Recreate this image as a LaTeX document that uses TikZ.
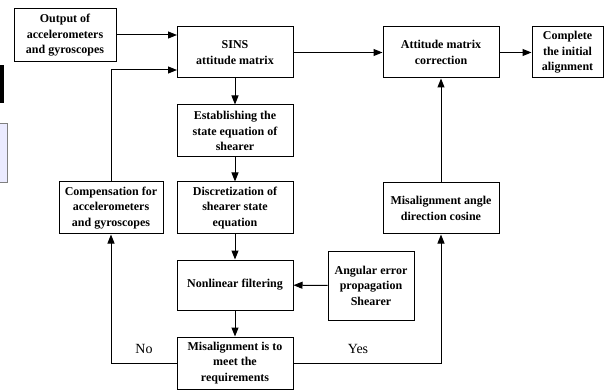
\documentclass[tikz,border=0pt]{standalone}
\usepackage{fontspec}
\setmainfont{Liberation Serif}
\usetikzlibrary{arrows.meta}

\begin{document}
\begin{tikzpicture}[x=1pt,y=-1pt]
    \useasboundingbox (0,0) rectangle (605,390);
    \tikzset{BoxStyle/.style = {draw, line width=1pt, align=center, inner sep=2pt,
        font=\fontsize{12}{15.5}\selectfont\bfseries}}
    \tikzset{EdgeStyle/.style = {line width=1pt, -{Triangle[length=9pt,width=7pt]}}}

    % bits cut from the page on the left
    \fill[black] (0,65) rectangle (4,103);
    \filldraw[fill=blue!8, draw=gray, line width=0.8pt] (-1,123) rectangle (7,182);

    \node[BoxStyle, minimum width=102pt, minimum height=53pt] (Out) at (65,35.5)
        {Output of\\accelerometers\\and gyroscopes};
    \node[BoxStyle, minimum width=116pt, minimum height=51pt] (Sins) at (235,52.5)
        {SINS\\attitude matrix};
    \node[BoxStyle, minimum width=116pt, minimum height=52pt] (Est) at (235,131)
        {Establishing the\\state equation of\\shearer};
    \node[BoxStyle, minimum width=116pt, minimum height=52pt] (Disc) at (235,208)
        {Discretization of\\shearer state\\equation};
    \node[BoxStyle, minimum width=116pt, minimum height=50pt] (Filt) at (235,285)
        {Nonlinear filtering};
    \node[BoxStyle, minimum width=116pt, minimum height=52pt] (Req) at (235,363)
        {Misalignment is to\\meet the\\requirements};
    \node[BoxStyle, minimum width=104pt, minimum height=52pt] (Comp) at (111,208)
        {Compensation for\\accelerometers\\and gyroscopes};
    \node[BoxStyle, minimum width=116pt, minimum height=51pt] (Corr) at (441,52.5)
        {Attitude matrix\\correction};
    \node[BoxStyle, minimum width=71pt, minimum height=51pt] (Done) at (567.5,52.5)
        {Complete\\the initial\\alignment};
    \node[BoxStyle, minimum width=116pt, minimum height=51pt] (Cos) at (441,208.5)
        {Misalignment angle\\direction cosine};
    \node[BoxStyle, minimum width=86pt, minimum height=69pt] (Err) at (371,285.5)
        {Angular error\\propagation\\Shearer};

    \coordinate (OutIn) at (177,35);
    \coordinate (BackIn) at (177,70);

    \draw[EdgeStyle] (Out.east |- OutIn) -- (OutIn);
    \draw[EdgeStyle] (Comp.north) |- (BackIn);
    \draw[EdgeStyle] (Sins) -- (Est);
    \draw[EdgeStyle] (Est) -- (Disc);
    \draw[EdgeStyle] (Disc) -- (Filt);
    \draw[EdgeStyle] (Filt) -- (Req);
    \draw[EdgeStyle] (Err) -- (Filt);
    \draw[EdgeStyle] (Sins) -- (Corr);
    \draw[EdgeStyle] (Corr) -- (Done);
    \draw[EdgeStyle] (Cos) -- (Corr);
    \draw[EdgeStyle] (Req.west) -| (Comp.south);
    \draw[EdgeStyle] (Req.east) -| (Cos.south);

    \node[font=\fontsize{14}{16}\selectfont] (No) at (144,349) {No};
    \node[font=\fontsize{14}{16}\selectfont] (Yes) at (358,349) {Yes};
\end{tikzpicture}
\end{document}
